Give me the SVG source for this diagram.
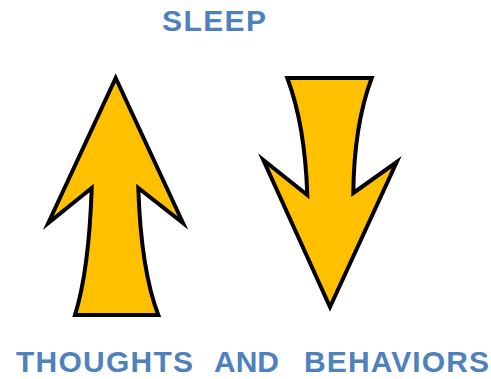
<svg xmlns="http://www.w3.org/2000/svg" width="491" height="379" viewBox="0 0 491 379">
<style>
.lbl{font-family:"Liberation Sans",Arial,sans-serif;font-weight:bold;fill:#4F81BD;}
.arrow{fill:#FFC000;stroke:#000;stroke-width:4;stroke-linejoin:miter;stroke-miterlimit:10;}
</style>
<rect width="491" height="379" fill="#fff"/>
<g id="sleep-label">
<text class="lbl" x="162" y="31" font-size="30" textLength="104" lengthAdjust="spacing">SLEEP</text>
</g>
<g id="up-arrow">
<path class="arrow" d="M115.7,78 L183,223 L138.3,188 Q141,270 158.3,315 L75,315 Q89,270 91.7,188 L48.3,223 Z"/>
</g>
<g id="down-arrow">
<path class="arrow" d="M287.3,78 L371.7,78 Q354,125 353.3,193 L396.7,162 L330,307 L263.3,160 L307.3,195 Q305,125 287.3,78 Z"/>
</g>
<g id="bottom-label">
<text class="lbl" x="16" y="372" font-size="30" textLength="177" lengthAdjust="spacing">THOUGHTS</text>
<text class="lbl" x="214" y="372" font-size="30" textLength="65" lengthAdjust="spacing">AND</text>
<text class="lbl" x="304" y="372" font-size="30" textLength="185" lengthAdjust="spacing">BEHAVIORS</text>
</g>
<g id="connectors"/>
</svg>
